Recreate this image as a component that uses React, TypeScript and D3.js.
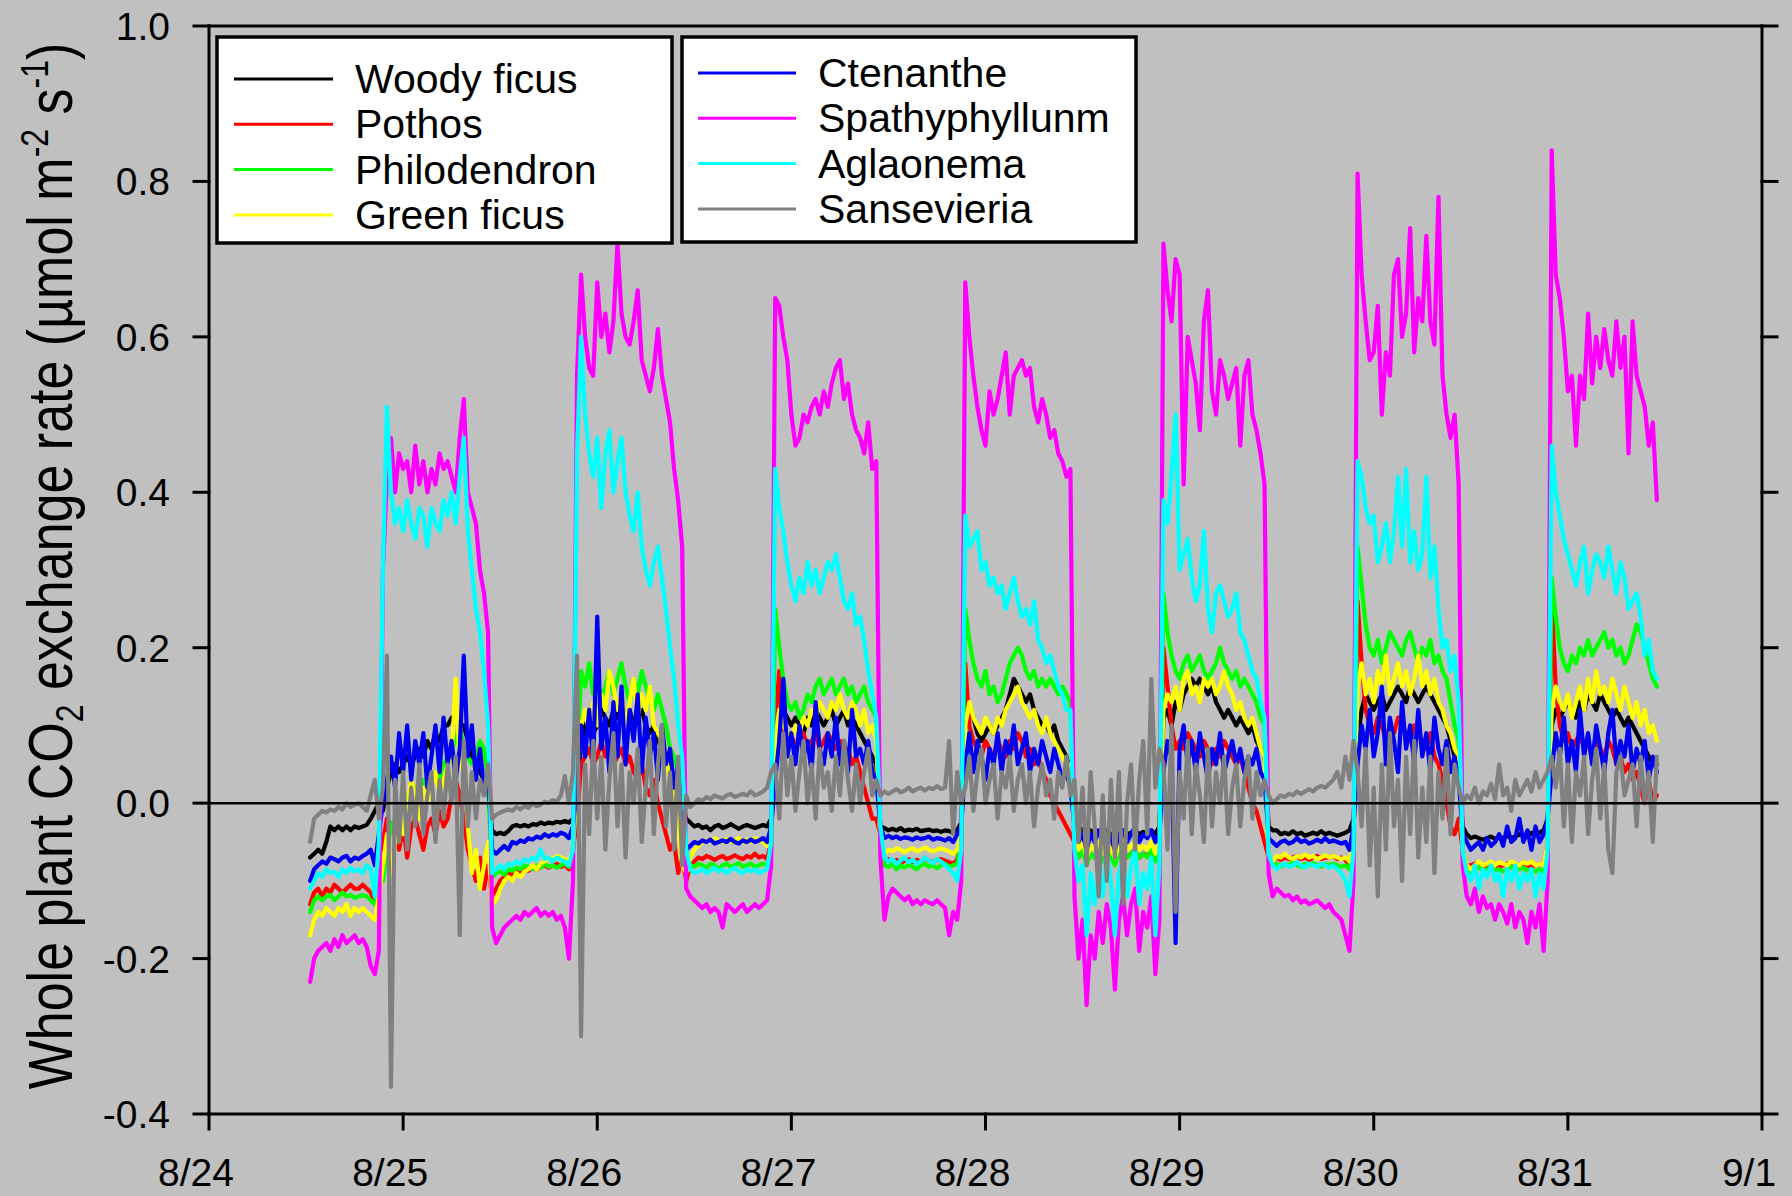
import React from 'react';
import * as d3 from 'd3';

const W = 1792;
const H = 1196;
const PLOT = { left: 209, right: 1762, top: 26, bottom: 1114 };
const FONT = '"Liberation Sans", Arial, Helvetica, sans-serif';

const SERIES_NAMES = ['Woody ficus', 'Pothos', 'Philodendron', 'Green ficus', 'Ctenanthe', 'Spathyphyllunm', 'Aglaonema', 'Sansevieria'];
const SERIES_COLORS = ['#000000', '#ff0000', '#00ff00', '#ffff00', '#0000f0', '#ff00ff', '#00ffff', '#808080'];

const X_TICK_LABELS = ['8/24', '8/25', '8/26', '8/27', '8/28', '8/29', '8/30', '8/31', '9/1'];
const Y_TICKS = [-0.4, -0.2, 0.0, 0.2, 0.4, 0.6, 0.8, 1.0];
const Y_TICK_LABELS = ['-0.4', '-0.2', '0.0', '0.2', '0.4', '0.6', '0.8', '1.0'];

const X_START = new Date(2008, 7, 24, 0, 0);
const X_END = new Date(2008, 8, 1, 0, 0);
// readings: first at 8/24 12:30, one every 30 minutes
const FIRST_SAMPLE = new Date(2008, 7, 24, 12, 30);
const SAMPLE_MINUTES = 30;

// Woody ficus
const woodyFicus = [
  -0.07, -0.065, -0.06, -0.065, -0.05, -0.03, -0.035, -0.03, -0.035, -0.03, -0.035, -0.03, -0.032, -0.03, -0.028, -0.02, -0.01, 0.0,
  -0.01, 0.02, 0.04, 0.05, 0.04, 0.05, 0.06, 0.05, 0.06, 0.07, 0.06, 0.08, 0.07, 0.09, 0.08, 0.10, 0.10, 0.11, 0.11, 0.10, 0.10, 0.08, 0.06, 0.05, 0.04, 0.03, 0.02,
  -0.035, -0.04, -0.038, -0.04, -0.036, -0.03, -0.028, -0.03, -0.028, -0.03, -0.027, -0.028, -0.025, -0.027, -0.025, -0.026, -0.024, -0.025, -0.023, -0.025, -0.02,
  0.0, 0.08, 0.10, 0.11, 0.09, 0.10, 0.12, 0.11, 0.10, 0.12, 0.11, 0.13, 0.11, 0.12, 0.10, 0.11, 0.12, 0.10, 0.09, 0.10, 0.08, 0.07, 0.06, 0.05, 0.03, 0.02, 0.0,
  -0.02, -0.025, -0.03, -0.028, -0.032, -0.03, -0.035, -0.03, -0.028, -0.032, -0.03, -0.027, -0.03, -0.033, -0.03, -0.028, -0.03, -0.032, -0.03, -0.028, -0.03, -0.02,
  0.05, 0.10, 0.12, 0.11, 0.10, 0.11, 0.10, 0.09, 0.11, 0.10, 0.12, 0.11, 0.10, 0.11, 0.12, 0.10, 0.11, 0.12, 0.10, 0.11, 0.10, 0.09, 0.08, 0.07, 0.06, 0.05,
  -0.03, -0.032, -0.035, -0.033, -0.035, -0.032, -0.036, -0.034, -0.035, -0.033, -0.036, -0.035, -0.034, -0.036, -0.035, -0.037, -0.035, -0.036, -0.038, -0.035, -0.025,
  0.10, 0.12, 0.11, 0.09, 0.08, 0.09, 0.10, 0.09, 0.10, 0.11, 0.12, 0.14, 0.16, 0.15, 0.14, 0.13, 0.14, 0.12, 0.11, 0.10, 0.10, 0.09, 0.10, 0.08, 0.07, 0.06, 0.04,
  -0.01, -0.03, -0.035, -0.04, -0.035, -0.04, -0.038, -0.04, -0.035, -0.04, -0.045, -0.04, -0.035, -0.04, -0.038, -0.035, -0.04, -0.037, -0.04, -0.035, -0.04, -0.03,
  0.11, 0.12, 0.10, 0.13, 0.12, 0.14, 0.15, 0.16, 0.15, 0.16, 0.15, 0.14, 0.15, 0.13, 0.12, 0.11, 0.12, 0.11, 0.10, 0.11, 0.10, 0.09, 0.10, 0.08, 0.07, 0.06,
  -0.03, -0.035, -0.035, -0.04, -0.038, -0.04, -0.036, -0.04, -0.038, -0.042, -0.04, -0.038, -0.04, -0.036, -0.04, -0.038, -0.04, -0.042, -0.04, -0.038, -0.035, -0.02,
  0.08, 0.12, 0.14, 0.13, 0.12, 0.13, 0.14, 0.12, 0.13, 0.14, 0.15, 0.14, 0.13, 0.15, 0.14, 0.13, 0.14, 0.15, 0.14, 0.13, 0.12, 0.11, 0.10, 0.08, 0.06, 0.05,
  -0.03, -0.04, -0.045, -0.043, -0.045, -0.047, -0.045, -0.043, -0.046, -0.044, -0.045, -0.042, -0.045, -0.043, -0.04, -0.042, -0.04, -0.038, -0.04, -0.038, -0.035, -0.02,
  0.10, 0.12, 0.11, 0.12, 0.13, 0.12, 0.11, 0.13, 0.12, 0.14, 0.13, 0.12, 0.14, 0.13, 0.12, 0.11, 0.12, 0.11, 0.10, 0.11, 0.10, 0.09, 0.08, 0.07, 0.06, 0.05, 0.05,
];

// Pothos
const pothos = [
  -0.13, -0.115, -0.11, -0.12, -0.11, -0.115, -0.105, -0.11, -0.115, -0.11, -0.105, -0.11, -0.11, -0.105, -0.11, -0.115, -0.13, -0.07,
  -0.05, -0.02, -0.03, -0.04, -0.06, -0.03, -0.07, -0.03, -0.02, -0.04, -0.06, -0.03, -0.02, -0.04, -0.01, -0.03, -0.02, 0.01, 0.03, 0.01, -0.02, -0.06, -0.08, -0.10, -0.07, -0.11, -0.08,
  -0.12, -0.11, -0.1, -0.095, -0.09, -0.092, -0.088, -0.09, -0.085, -0.087, -0.083, -0.085, -0.082, -0.08, -0.083, -0.08, -0.078, -0.082, -0.08, -0.085, -0.06,
  -0.02, 0.05, 0.06, 0.07, 0.05, 0.06, 0.08, 0.06, 0.07, 0.05, 0.06, 0.07, 0.05, 0.06, 0.04, 0.03, 0.05, 0.02, 0.01, 0.03, 0.0, -0.02, -0.04, -0.06, -0.05, -0.09, -0.07,
  -0.1, -0.08, -0.075, -0.07, -0.072, -0.068, -0.07, -0.073, -0.07, -0.068, -0.072, -0.07, -0.067, -0.07, -0.072, -0.068, -0.07, -0.065, -0.07, -0.068, -0.072, -0.05,
  0.10, 0.17, 0.09, 0.08, 0.09, 0.07, 0.08, 0.09, 0.07, 0.08, 0.09, 0.07, 0.08, 0.09, 0.08, 0.07, 0.08, 0.06, 0.07, 0.05, 0.06, 0.04, 0.02, 0.0, -0.02, -0.02,
  -0.04, -0.075, -0.072, -0.076, -0.073, -0.078, -0.074, -0.072, -0.076, -0.073, -0.075, -0.071, -0.074, -0.076, -0.073, -0.072, -0.074, -0.076, -0.078, -0.073, -0.05,
  0.18, 0.10, 0.08, 0.07, 0.06, 0.08, 0.07, 0.06, 0.08, 0.07, 0.06, 0.08, 0.07, 0.09, 0.08, 0.06, 0.07, 0.05, 0.06, 0.04, 0.03, 0.01, 0.0, -0.01, -0.02, -0.03, -0.04,
  -0.05, -0.07, -0.06, -0.075, -0.065, -0.07, -0.06, -0.07, -0.06, -0.068, -0.075, -0.065, -0.06, -0.07, -0.065, -0.06, -0.07, -0.065, -0.068, -0.06, -0.07, -0.06,
  0.20, 0.15, 0.10, 0.07, 0.08, 0.07, 0.09, 0.08, 0.07, 0.06, 0.08, 0.07, 0.05, 0.07, 0.06, 0.08, 0.07, 0.06, 0.05, 0.06, 0.04, 0.02, 0.0, -0.01, -0.03, -0.05,
  -0.07, -0.075, -0.07, -0.073, -0.07, -0.072, -0.07, -0.068, -0.072, -0.07, -0.073, -0.07, -0.068, -0.072, -0.07, -0.07, -0.068, -0.072, -0.07, -0.073, -0.08, -0.05,
  0.26, 0.18, 0.12, 0.10, 0.09, 0.11, 0.10, 0.08, 0.10, 0.09, 0.11, 0.10, 0.09, 0.08, 0.10, 0.09, 0.08, 0.07, 0.09, 0.06, 0.05, 0.03, 0.0, -0.03, -0.04, -0.02,
  -0.06, -0.08, -0.08, -0.078, -0.08, -0.082, -0.08, -0.078, -0.08, -0.082, -0.08, -0.078, -0.08, -0.082, -0.08, -0.078, -0.08, -0.082, -0.08, -0.078, -0.08, -0.05,
  0.26, 0.15, 0.10, 0.08, 0.09, 0.07, 0.08, 0.09, 0.07, 0.08, 0.06, 0.08, 0.07, 0.06, 0.08, 0.07, 0.05, 0.06, 0.04, 0.05, 0.03, 0.04, 0.02, 0.0, 0.03, 0.0, 0.01,
];

// Philodendron
const philodendron = [
  -0.14, -0.125, -0.12, -0.125, -0.12, -0.118, -0.125, -0.12, -0.115, -0.12, -0.118, -0.122, -0.12, -0.118, -0.12, -0.125, -0.13, -0.1,
  -0.1, -0.06, -0.03, -0.02, -0.01, 0.0, 0.01, 0.0, 0.02, 0.01, 0.03, 0.02, 0.03, 0.04, 0.03, 0.05, 0.06, 0.07, 0.08, 0.10, 0.07, 0.06, 0.05, 0.06, 0.08, 0.07, 0.03,
  -0.095, -0.09, -0.088, -0.092, -0.085, -0.087, -0.083, -0.085, -0.08, -0.082, -0.085, -0.08, -0.083, -0.078, -0.082, -0.08, -0.083, -0.08, -0.078, -0.082, -0.06,
  0.05, 0.17, 0.15, 0.18, 0.14, 0.16, 0.13, 0.15, 0.17, 0.14, 0.16, 0.18, 0.15, 0.13, 0.16, 0.14, 0.17, 0.15, 0.13, 0.12, 0.14, 0.12, 0.10, 0.07, 0.06, 0.04, 0.02,
  -0.07, -0.08, -0.082, -0.078, -0.08, -0.083, -0.078, -0.08, -0.085, -0.08, -0.078, -0.082, -0.08, -0.077, -0.082, -0.08, -0.078, -0.082, -0.08, -0.078, -0.08, -0.06,
  0.25, 0.20, 0.16, 0.13, 0.12, 0.13, 0.11, 0.12, 0.14, 0.13, 0.15, 0.16, 0.14, 0.15, 0.16, 0.14, 0.15, 0.16, 0.14, 0.15, 0.13, 0.14, 0.15, 0.13, 0.12, 0.11,
  -0.04, -0.08, -0.082, -0.078, -0.085, -0.08, -0.083, -0.079, -0.082, -0.085, -0.08, -0.078, -0.082, -0.08, -0.084, -0.08, -0.078, -0.082, -0.08, -0.078, -0.05,
  0.25, 0.21, 0.18, 0.16, 0.15, 0.17, 0.14, 0.15, 0.13, 0.14, 0.16, 0.18, 0.19, 0.20, 0.19, 0.17, 0.16, 0.17, 0.15, 0.16, 0.15, 0.16, 0.15, 0.14, 0.15, 0.14, 0.13,
  -0.05, -0.07, -0.06, -0.08, -0.065, -0.07, -0.06, -0.075, -0.06, -0.07, -0.08, -0.065, -0.06, -0.07, -0.065, -0.06, -0.07, -0.065, -0.07, -0.06, -0.075, -0.06,
  0.27, 0.22, 0.19, 0.17, 0.16, 0.18, 0.19, 0.17, 0.18, 0.19, 0.17, 0.16, 0.17, 0.18, 0.20, 0.18, 0.17, 0.16, 0.17, 0.15, 0.16, 0.15, 0.14, 0.13, 0.11, 0.10,
  -0.075, -0.08, -0.078, -0.082, -0.078, -0.08, -0.076, -0.08, -0.082, -0.078, -0.08, -0.077, -0.08, -0.082, -0.078, -0.08, -0.078, -0.08, -0.082, -0.08, -0.085, -0.06,
  0.33, 0.28, 0.23, 0.20, 0.19, 0.21, 0.18, 0.20, 0.22, 0.21, 0.20, 0.19, 0.21, 0.22, 0.20, 0.18, 0.20, 0.19, 0.21, 0.18, 0.19, 0.17, 0.16, 0.13, 0.10, 0.08,
  -0.07, -0.085, -0.09, -0.085, -0.082, -0.088, -0.085, -0.083, -0.087, -0.085, -0.088, -0.085, -0.082, -0.086, -0.085, -0.083, -0.087, -0.085, -0.088, -0.085, -0.09, -0.06,
  0.29, 0.24, 0.20, 0.18, 0.17, 0.19, 0.18, 0.20, 0.19, 0.21, 0.19, 0.20, 0.21, 0.22, 0.20, 0.21, 0.19, 0.20, 0.18, 0.19, 0.21, 0.23, 0.22, 0.20, 0.18, 0.16, 0.15,
];

// Green ficus
const greenFicus = [
  -0.17, -0.15, -0.14, -0.145, -0.135, -0.14, -0.145, -0.135, -0.14, -0.13, -0.145, -0.135, -0.14, -0.135, -0.14, -0.145, -0.15, -0.12,
  -0.08, -0.04, -0.09, -0.05, -0.02, -0.04, 0.0, 0.03, 0.01, -0.02, 0.02, 0.0, 0.02, 0.04, 0.01, 0.03, 0.05, 0.06, 0.16, 0.05, 0.04, -0.03, -0.09, -0.06, -0.11, -0.08, -0.05,
  -0.13, -0.125, -0.11, -0.1, -0.095, -0.1, -0.09, -0.095, -0.088, -0.085, -0.08, -0.085, -0.078, -0.075, -0.07, -0.072, -0.068, -0.07, -0.072, -0.075, -0.06,
  0.03, 0.10, 0.12, 0.09, 0.13, 0.10, 0.14, 0.12, 0.17, 0.15, 0.12, 0.14, 0.10, 0.13, 0.16, 0.11, 0.14, 0.12, 0.15, 0.10, 0.09, 0.08, 0.06, 0.03, 0.01, -0.03, -0.08,
  -0.09, -0.07, -0.06, -0.055, -0.05, -0.048, -0.05, -0.045, -0.048, -0.05, -0.046, -0.05, -0.048, -0.045, -0.05, -0.047, -0.05, -0.045, -0.048, -0.05, -0.055, -0.04,
  0.08, 0.12, 0.10, 0.09, 0.08, 0.10, 0.09, 0.11, 0.10, 0.12, 0.11, 0.13, 0.12, 0.11, 0.13, 0.12, 0.14, 0.12, 0.11, 0.13, 0.12, 0.10, 0.12, 0.09, 0.10, 0.08,
  -0.05, -0.065, -0.06, -0.062, -0.058, -0.06, -0.063, -0.06, -0.058, -0.062, -0.06, -0.057, -0.06, -0.062, -0.06, -0.058, -0.06, -0.062, -0.065, -0.06, -0.04,
  0.10, 0.13, 0.11, 0.10, 0.09, 0.11, 0.10, 0.09, 0.11, 0.10, 0.12, 0.13, 0.14, 0.15, 0.13, 0.12, 0.11, 0.12, 0.10, 0.09, 0.11, 0.09, 0.08, 0.07, 0.06, 0.05, 0.05,
  -0.04, -0.06, -0.05, -0.07, -0.055, -0.06, -0.05, -0.065, -0.05, -0.06, -0.07, -0.055, -0.05, -0.06, -0.055, -0.05, -0.06, -0.055, -0.06, -0.05, -0.065, -0.05,
  0.12, 0.14, 0.13, 0.15, 0.12, 0.16, 0.17, 0.14, 0.15, 0.13, 0.16, 0.15, 0.16, 0.14, 0.15, 0.17, 0.15, 0.14, 0.12, 0.13, 0.11, 0.10, 0.11, 0.09, 0.07, 0.06,
  -0.07, -0.075, -0.068, -0.07, -0.065, -0.07, -0.072, -0.068, -0.07, -0.066, -0.07, -0.068, -0.072, -0.07, -0.067, -0.07, -0.068, -0.07, -0.072, -0.07, -0.075, -0.05,
  0.15, 0.18, 0.14, 0.16, 0.13, 0.17, 0.15, 0.19, 0.14, 0.16, 0.18, 0.15, 0.17, 0.14, 0.16, 0.19, 0.15, 0.17, 0.14, 0.16, 0.13, 0.12, 0.10, 0.09, 0.07, 0.06,
  -0.06, -0.08, -0.085, -0.08, -0.075, -0.08, -0.078, -0.075, -0.08, -0.076, -0.078, -0.08, -0.075, -0.078, -0.08, -0.076, -0.078, -0.075, -0.08, -0.078, -0.08, -0.05,
  0.12, 0.15, 0.13, 0.12, 0.14, 0.11, 0.13, 0.15, 0.12, 0.16, 0.13, 0.17, 0.14, 0.15, 0.13, 0.16, 0.14, 0.12, 0.15, 0.13, 0.11, 0.13, 0.10, 0.12, 0.09, 0.10, 0.08,
];

// Ctenanthe
const ctenanthe = [
  -0.1, -0.085, -0.08, -0.075, -0.078, -0.07, -0.072, -0.075, -0.07, -0.068, -0.075, -0.07, -0.072, -0.068, -0.065, -0.06, -0.08, -0.04,
  0.0, 0.03, 0.06, 0.02, 0.09, 0.04, 0.10, 0.03, 0.08, 0.05, 0.09, 0.02, 0.06, 0.10, 0.04, 0.11, 0.05, 0.08, 0.03, 0.07, 0.19, 0.06, 0.10, 0.03, 0.07, 0.02, 0.04,
  -0.06, -0.065, -0.06, -0.055, -0.06, -0.05, -0.052, -0.048, -0.05, -0.045, -0.047, -0.043, -0.045, -0.04, -0.043, -0.04, -0.042, -0.038, -0.04, -0.045, -0.03,
  0.02, 0.10, 0.06, 0.12, 0.05, 0.24, 0.07, 0.11, 0.04, 0.13, 0.06, 0.15, 0.05, 0.12, 0.08, 0.14, 0.04, 0.11, 0.06, 0.09, 0.03, 0.10, 0.05, 0.07, 0.02, 0.05, -0.02,
  -0.06, -0.055, -0.05, -0.052, -0.048, -0.05, -0.047, -0.052, -0.05, -0.048, -0.05, -0.046, -0.05, -0.052, -0.048, -0.05, -0.047, -0.05, -0.048, -0.045, -0.05, -0.03,
  0.03, 0.08, 0.16, 0.06, 0.09, 0.05, 0.10, 0.06, 0.08, 0.04, 0.13, 0.07, 0.05, 0.09, 0.06, 0.11, 0.05, 0.08, 0.04, 0.12, 0.06, 0.07, 0.05, 0.08, 0.04, 0.03,
  -0.03, -0.045, -0.042, -0.045, -0.043, -0.046, -0.044, -0.045, -0.047, -0.044, -0.046, -0.045, -0.043, -0.047, -0.045, -0.046, -0.048, -0.045, -0.05, -0.04, -0.03,
  0.05, 0.09, 0.04, 0.08, 0.06, 0.03, 0.07, 0.05, 0.09, 0.04, 0.08, 0.06, 0.10, 0.05, 0.07, 0.09, 0.04, 0.07, 0.05, 0.08, 0.06, 0.04, 0.07, 0.05, 0.03, 0.04, 0.02,
  -0.03, -0.05, -0.04, -0.06, -0.04, -0.05, -0.035, -0.05, -0.04, -0.045, -0.06, -0.04, -0.035, -0.05, -0.04, -0.03, -0.05, -0.04, -0.045, -0.035, -0.05, -0.04,
  0.04, 0.08, 0.06, -0.18, 0.07, 0.10, 0.05, 0.08, 0.04, 0.09, 0.06, 0.03, 0.07, 0.05, 0.09, 0.04, 0.06, 0.08, 0.05, 0.07, 0.04, 0.06, 0.05, 0.07, 0.04, 0.03,
  -0.045, -0.05, -0.055, -0.05, -0.048, -0.052, -0.05, -0.045, -0.05, -0.048, -0.052, -0.05, -0.047, -0.05, -0.045, -0.05, -0.048, -0.05, -0.052, -0.05, -0.06, -0.03,
  0.05, 0.10, 0.07, 0.12, 0.06, 0.09, 0.15, 0.05, 0.11, 0.08, 0.04, 0.13, 0.07, 0.10, 0.05, 0.12, 0.06, 0.09, 0.04, 0.11, 0.07, 0.05, 0.08, 0.04, 0.06, 0.03,
  -0.04, -0.05, -0.06, -0.055, -0.05, -0.06, -0.045, -0.055, -0.05, -0.04, -0.055, -0.03, -0.05, -0.045, -0.02, -0.05, -0.035, -0.06, -0.03, -0.05, -0.04, -0.02,
  0.04, 0.09, 0.06, 0.11, 0.05, 0.08, 0.04, 0.12, 0.06, 0.09, 0.05, 0.10, 0.07, 0.04, 0.09, 0.12, 0.05, 0.08, 0.06, 0.10, 0.04, 0.07, 0.05, 0.08, 0.03, 0.06, 0.04,
];

// Spathyphyllunm
const spathyphyllum = [
  -0.23, -0.2, -0.19, -0.185, -0.18, -0.19, -0.175, -0.185, -0.17, -0.18, -0.175, -0.17, -0.18, -0.175, -0.185, -0.21, -0.22, -0.19,
  0.30, 0.42, 0.47, 0.40, 0.45, 0.43, 0.44, 0.40, 0.46, 0.41, 0.44, 0.40, 0.43, 0.41, 0.45, 0.43, 0.44, 0.42, 0.40, 0.47, 0.52, 0.40, 0.38, 0.36, 0.30, 0.27, 0.22,
  -0.16, -0.18, -0.17, -0.16, -0.155, -0.15, -0.145, -0.15, -0.14, -0.145, -0.14, -0.135, -0.145, -0.14, -0.145, -0.14, -0.15, -0.145, -0.16, -0.2, -0.1,
  0.55, 0.68, 0.60, 0.56, 0.55, 0.67, 0.60, 0.63, 0.58, 0.62, 0.72, 0.63, 0.60, 0.59, 0.62, 0.66, 0.57, 0.55, 0.53, 0.56, 0.61, 0.55, 0.52, 0.49, 0.43, 0.39, 0.33,
  -0.11, -0.12, -0.125, -0.13, -0.135, -0.13, -0.14, -0.135, -0.14, -0.16, -0.13, -0.135, -0.14, -0.135, -0.13, -0.14, -0.135, -0.13, -0.135, -0.13, -0.125, -0.08,
  0.65, 0.64, 0.60, 0.57, 0.50, 0.46, 0.47, 0.50, 0.49, 0.51, 0.52, 0.50, 0.53, 0.51, 0.54, 0.56, 0.57, 0.52, 0.54, 0.50, 0.48, 0.47, 0.45, 0.49, 0.43, 0.44,
  -0.07, -0.15, -0.12, -0.11, -0.115, -0.12, -0.125, -0.12, -0.13, -0.125, -0.13, -0.125, -0.128, -0.13, -0.125, -0.13, -0.135, -0.17, -0.14, -0.15, -0.1,
  0.67, 0.60, 0.55, 0.51, 0.48, 0.46, 0.53, 0.50, 0.52, 0.55, 0.58, 0.50, 0.55, 0.56, 0.57, 0.55, 0.56, 0.51, 0.49, 0.52, 0.50, 0.47, 0.48, 0.45, 0.44, 0.42, 0.43,
  -0.12, -0.20, -0.15, -0.26, -0.17, -0.20, -0.14, -0.18, -0.13, -0.16, -0.24, -0.15, -0.12, -0.17, -0.13, -0.11, -0.19, -0.14, -0.16, -0.12, -0.22, -0.15,
  0.72, 0.66, 0.62, 0.70, 0.68, 0.41, 0.60, 0.57, 0.54, 0.48, 0.62, 0.66, 0.53, 0.50, 0.57, 0.55, 0.52, 0.54, 0.56, 0.46, 0.55, 0.57, 0.50, 0.48, 0.45, 0.41,
  -0.09, -0.12, -0.11, -0.115, -0.12, -0.118, -0.125, -0.12, -0.128, -0.125, -0.13, -0.128, -0.125, -0.13, -0.135, -0.13, -0.14, -0.145, -0.15, -0.17, -0.19, -0.1,
  0.81, 0.68, 0.62, 0.57, 0.58, 0.64, 0.50, 0.58, 0.55, 0.68, 0.70, 0.60, 0.63, 0.74, 0.58, 0.65, 0.62, 0.73, 0.62, 0.59, 0.78, 0.55, 0.50, 0.47, 0.50, 0.41,
  -0.08, -0.12, -0.13, -0.11, -0.14, -0.12, -0.135, -0.13, -0.15, -0.13, -0.14, -0.155, -0.13, -0.16, -0.14, -0.15, -0.18, -0.14, -0.16, -0.13, -0.19, -0.1,
  0.84, 0.68, 0.65, 0.60, 0.53, 0.55, 0.46, 0.55, 0.52, 0.63, 0.54, 0.60, 0.56, 0.61, 0.57, 0.55, 0.62, 0.56, 0.60, 0.45, 0.62, 0.55, 0.53, 0.51, 0.46, 0.49, 0.39,
];

// Aglaonema
const aglaonema = [
  -0.11, -0.1, -0.09, -0.095, -0.085, -0.09, -0.088, -0.095, -0.085, -0.09, -0.083, -0.088, -0.085, -0.09, -0.08, -0.085, -0.12, -0.05,
  0.30, 0.51, 0.40, 0.36, 0.38, 0.35, 0.39, 0.36, 0.34, 0.38, 0.37, 0.33, 0.38, 0.36, 0.35, 0.39, 0.37, 0.40, 0.36, 0.42, 0.47, 0.35, 0.30, 0.25, 0.22, 0.17, 0.10,
  -0.09, -0.085, -0.08, -0.085, -0.078, -0.08, -0.075, -0.078, -0.072, -0.075, -0.07, -0.073, -0.06, -0.072, -0.07, -0.075, -0.07, -0.073, -0.075, -0.08, -0.06,
  0.45, 0.60, 0.50, 0.45, 0.42, 0.47, 0.38, 0.45, 0.48, 0.40, 0.44, 0.47, 0.40, 0.37, 0.35, 0.40, 0.33, 0.30, 0.28, 0.31, 0.33, 0.29, 0.25, 0.20, 0.16, 0.10, 0.06,
  -0.06, -0.085, -0.09, -0.088, -0.085, -0.09, -0.087, -0.083, -0.088, -0.085, -0.09, -0.086, -0.083, -0.088, -0.09, -0.085, -0.088, -0.085, -0.09, -0.087, -0.085, -0.05,
  0.43, 0.38, 0.35, 0.31, 0.28, 0.26, 0.29, 0.27, 0.31, 0.28, 0.30, 0.27, 0.29, 0.31, 0.30, 0.32, 0.29, 0.26, 0.25, 0.27, 0.23, 0.24, 0.21, 0.17, 0.14, 0.11,
  -0.03, -0.07, -0.075, -0.072, -0.078, -0.074, -0.07, -0.076, -0.073, -0.078, -0.075, -0.07, -0.074, -0.077, -0.072, -0.075, -0.08, -0.085, -0.09, -0.1, -0.06,
  0.37, 0.33, 0.34, 0.35, 0.30, 0.31, 0.28, 0.29, 0.27, 0.28, 0.25, 0.27, 0.29, 0.26, 0.24, 0.25, 0.23, 0.26, 0.21, 0.20, 0.18, 0.19, 0.17, 0.15, 0.14, 0.12, 0.12,
  -0.06, -0.1, -0.08, -0.17, -0.09, -0.13, -0.08, -0.12, -0.06, -0.1, -0.17, -0.09, -0.07, -0.12, -0.08, -0.06, -0.13, -0.09, -0.11, -0.07, -0.17, -0.08,
  0.39, 0.36, 0.42, 0.50, 0.30, 0.32, 0.34, 0.29, 0.26, 0.28, 0.35, 0.25, 0.22, 0.27, 0.28, 0.26, 0.24, 0.25, 0.27, 0.22, 0.21, 0.19, 0.17, 0.16, 0.13, 0.11,
  -0.065, -0.08, -0.085, -0.08, -0.078, -0.082, -0.08, -0.076, -0.08, -0.083, -0.078, -0.08, -0.082, -0.078, -0.08, -0.083, -0.08, -0.085, -0.09, -0.1, -0.12, -0.06,
  0.44, 0.42, 0.38, 0.36, 0.37, 0.31, 0.33, 0.36, 0.31, 0.35, 0.42, 0.33, 0.43, 0.31, 0.35, 0.30, 0.32, 0.42, 0.29, 0.33, 0.25, 0.20, 0.21, 0.17, 0.19, 0.13,
  -0.06, -0.09, -0.1, -0.08, -0.11, -0.085, -0.095, -0.08, -0.1, -0.09, -0.12, -0.085, -0.1, -0.08, -0.11, -0.09, -0.1, -0.085, -0.12, -0.09, -0.11, -0.06,
  0.46, 0.40, 0.37, 0.34, 0.32, 0.30, 0.28, 0.31, 0.33, 0.27, 0.30, 0.32, 0.31, 0.29, 0.33, 0.30, 0.27, 0.31, 0.29, 0.25, 0.26, 0.27, 0.24, 0.19, 0.21, 0.17, 0.16,
];

// Sansevieria
const sansevieria = [
  -0.05, -0.02, -0.015, -0.01, -0.012, -0.008, -0.01, -0.005, -0.008, 0.0, -0.005, -0.002, 0.0, -0.005, -0.01, 0.01, 0.03, -0.02,
  0.02, 0.19, -0.365, 0.03, -0.05, 0.04, -0.06, 0.02, -0.03, 0.05, -0.04, 0.01, 0.04, -0.05, 0.03, -0.02, 0.05, 0.0, 0.06, -0.17, 0.08, -0.03, 0.04, -0.02, 0.03, 0.01, 0.05,
  -0.02, -0.015, -0.012, -0.01, -0.008, -0.01, -0.005, -0.008, -0.004, -0.006, 0.0, -0.004, -0.002, 0.002, 0.0, 0.004, 0.002, 0.01, 0.035, 0.0, 0.04,
  0.19, -0.30, 0.05, -0.04, 0.08, -0.02, 0.06, -0.06, 0.03, 0.09, -0.03, 0.05, -0.07, 0.04, 0.0, 0.07, -0.05, 0.02, 0.08, -0.04, 0.05, 0.10, -0.03, 0.04, -0.06, 0.06, -0.08,
  0.01, -0.005, 0.0, 0.005, 0.003, 0.008, 0.005, 0.01, 0.008, 0.006, 0.01, 0.012, 0.008, 0.01, 0.012, 0.01, 0.015, 0.01, 0.012, 0.015, 0.02, 0.04,
  0.05, -0.02, 0.09, 0.01, 0.06, -0.01, 0.04, 0.08, 0.0, 0.05, -0.02, 0.07, 0.02, 0.04, -0.01, 0.06, 0.01, 0.08, 0.03, -0.01, 0.05, 0.0, 0.04, 0.07, 0.01, 0.03,
  0.01, 0.015, 0.012, 0.015, 0.018, 0.014, 0.016, 0.02, 0.015, 0.018, 0.02, 0.016, 0.02, 0.018, 0.022, 0.018, 0.02, 0.08, -0.04, 0.04, 0.0,
  0.02, 0.06, -0.01, 0.04, 0.07, 0.0, 0.03, 0.05, -0.02, 0.04, 0.02, 0.06, -0.01, 0.03, 0.05, 0.0, 0.04, -0.03, 0.02, 0.05, 0.01, 0.03, -0.02, 0.04, 0.02, 0.06, 0.01,
  0.03, -0.05, 0.02, -0.08, 0.04, -0.03, -0.12, 0.01, -0.1, 0.03, -0.07, 0.04, -0.13, 0.0, 0.05, -0.06, 0.03, 0.08, -0.04, 0.16, 0.02, 0.07,
  0.05, -0.06, 0.10, -0.14, 0.04, -0.02, 0.08, -0.04, 0.05, 0.01, -0.05, 0.07, -0.03, 0.04, 0.0, 0.06, -0.04, 0.02, 0.05, -0.03, 0.03, 0.06, -0.02, 0.04, 0.01, 0.03,
  0.01, 0.0, 0.005, 0.01, 0.008, 0.012, 0.01, 0.015, 0.012, 0.015, 0.018, 0.015, 0.02, 0.022, 0.02, 0.025, 0.03, 0.04, 0.02, 0.06, 0.03, 0.08,
  0.04, -0.03, 0.07, -0.08, 0.02, -0.12, 0.05, -0.06, 0.09, -0.03, 0.03, -0.1, 0.06, -0.04, 0.08, -0.07, 0.02, -0.05, 0.06, -0.09, 0.04, -0.02, 0.07, -0.04, 0.05, 0.02,
  0.0, 0.01, 0.005, 0.02, 0.0, 0.015, 0.01, 0.025, 0.005, 0.05, 0.01, 0.02, -0.01, 0.03, 0.01, 0.02, 0.03, 0.015, 0.04, 0.02, 0.03, 0.04,
  0.06, 0.02, 0.07, -0.03, 0.05, -0.05, 0.04, 0.01, 0.06, -0.04, 0.03, 0.07, -0.02, 0.05, -0.06, -0.09, 0.04, 0.06, 0.01, 0.03, 0.05, -0.03, 0.06, 0.0, 0.04, -0.05, 0.06,
];

const SERIES_VALUES = [woodyFicus, pothos, philodendron, greenFicus, ctenanthe, spathyphyllum, aglaonema, sansevieria];

export default function App() {
  const x = d3.scaleTime().domain([X_START, X_END]).range([PLOT.left, PLOT.right]);
  const y = d3.scaleLinear().domain([-0.4, 1.0]).range([PLOT.bottom, PLOT.top]);
  const timeAt = (i: number) => new Date(FIRST_SAMPLE.getTime() + i * SAMPLE_MINUTES * 60000);
  const line = d3
    .line<number>()
    .x((_, i) => x(timeAt(i)))
    .y((d) => y(d));

  const xTicks = d3.timeDay.range(X_START, d3.timeDay.offset(X_END, 1));

  const legendBoxes = [
    { x: 217, y: 37, w: 455, h: 206, rows: [0, 1, 2, 3], firstRow: 79, lineX: 234, lineW: 99, textX: 355 },
    { x: 682, y: 37, w: 454, h: 205, rows: [4, 5, 6, 7], firstRow: 73, lineX: 698, lineW: 98, textX: 818 },
  ];
  const ROW_GAP = 45.3;

  return (
    <svg
      width={W}
      height={H}
      viewBox={`0 0 ${W} ${H}`}
      style={{ position: 'absolute', left: 0, top: 0, display: 'block' }}
      fontFamily={FONT}
    >
      <rect x={0} y={0} width={W} height={H} fill="#c0c0c0" />

      {/* data lines */}
      <g fill="none" strokeLinejoin="round" strokeLinecap="round">
        {SERIES_VALUES.map((vals, si) => (
          <path key={si} d={line(vals) || ''} stroke={SERIES_COLORS[si]} strokeWidth={4.2} />
        ))}
      </g>

      {/* zero line */}
      <line x1={PLOT.left} x2={PLOT.right} y1={y(0)} y2={y(0)} stroke="#000" strokeWidth={2.5} />

      {/* frame */}
      <g stroke="#000" strokeWidth={3} strokeLinecap="square">
        <line x1={PLOT.left} x2={PLOT.left} y1={PLOT.top} y2={PLOT.bottom} />
        <line x1={PLOT.right} x2={PLOT.right} y1={PLOT.top} y2={PLOT.bottom} />
        <line x1={PLOT.left} x2={PLOT.right} y1={PLOT.top} y2={PLOT.top} />
        <line x1={PLOT.left} x2={PLOT.right} y1={PLOT.bottom} y2={PLOT.bottom} />
        {Y_TICKS.map((t) => (
          <g key={t}>
            <line x1={PLOT.left - 15} x2={PLOT.left} y1={y(t)} y2={y(t)} />
            <line x1={PLOT.right} x2={PLOT.right + 15} y1={y(t)} y2={y(t)} />
          </g>
        ))}
        {xTicks.map((d, i) => (
          <line key={i} x1={x(d)} x2={x(d)} y1={PLOT.bottom} y2={PLOT.bottom + 15} />
        ))}
      </g>

      {/* y tick labels */}
      <g fontSize={39} textAnchor="end" fill="#000">
        {Y_TICKS.map((t, i) => (
          <text key={t} x={170} y={y(t)} dy="0.36em">
            {Y_TICK_LABELS[i]}
          </text>
        ))}
      </g>

      {/* x tick labels */}
      <g fontSize={39} textAnchor="middle" fill="#000">
        {xTicks.map((d, i) => (
          <text key={i} x={x(d) - 13} y={1186}>
            {X_TICK_LABELS[i]}
          </text>
        ))}
      </g>

      {/* y axis title */}
      <text
        transform={`translate(72, 566) rotate(-90) scale(1, 1.2)`}
        textAnchor="middle"
        fontSize={52}
        fill="#000"
      >
        <tspan>Whole plant CO</tspan>
        <tspan fontSize={32} dy={9}>2</tspan>
        <tspan dy={-9}> exchange rate (µmol m</tspan>
        <tspan fontSize={32} dy={-20}>-2</tspan>
        <tspan dy={20}> s</tspan>
        <tspan fontSize={32} dy={-20}>-1</tspan>
        <tspan dy={20}>)</tspan>
      </text>

      {/* legend */}
      {legendBoxes.map((b, bi) => (
        <g key={bi}>
          <rect x={b.x} y={b.y} width={b.w} height={b.h} fill="#fff" stroke="#000" strokeWidth={3.5} />
          {b.rows.map((si, ri) => {
            const ry = b.firstRow + ri * ROW_GAP;
            return (
              <g key={si}>
                <line x1={b.lineX} x2={b.lineX + b.lineW} y1={ry} y2={ry} stroke={SERIES_COLORS[si]} strokeWidth={3} />
                <text x={b.textX} y={ry + 14} fontSize={41} fill="#000">
                  {SERIES_NAMES[si]}
                </text>
              </g>
            );
          })}
        </g>
      ))}
    </svg>
  );
}
